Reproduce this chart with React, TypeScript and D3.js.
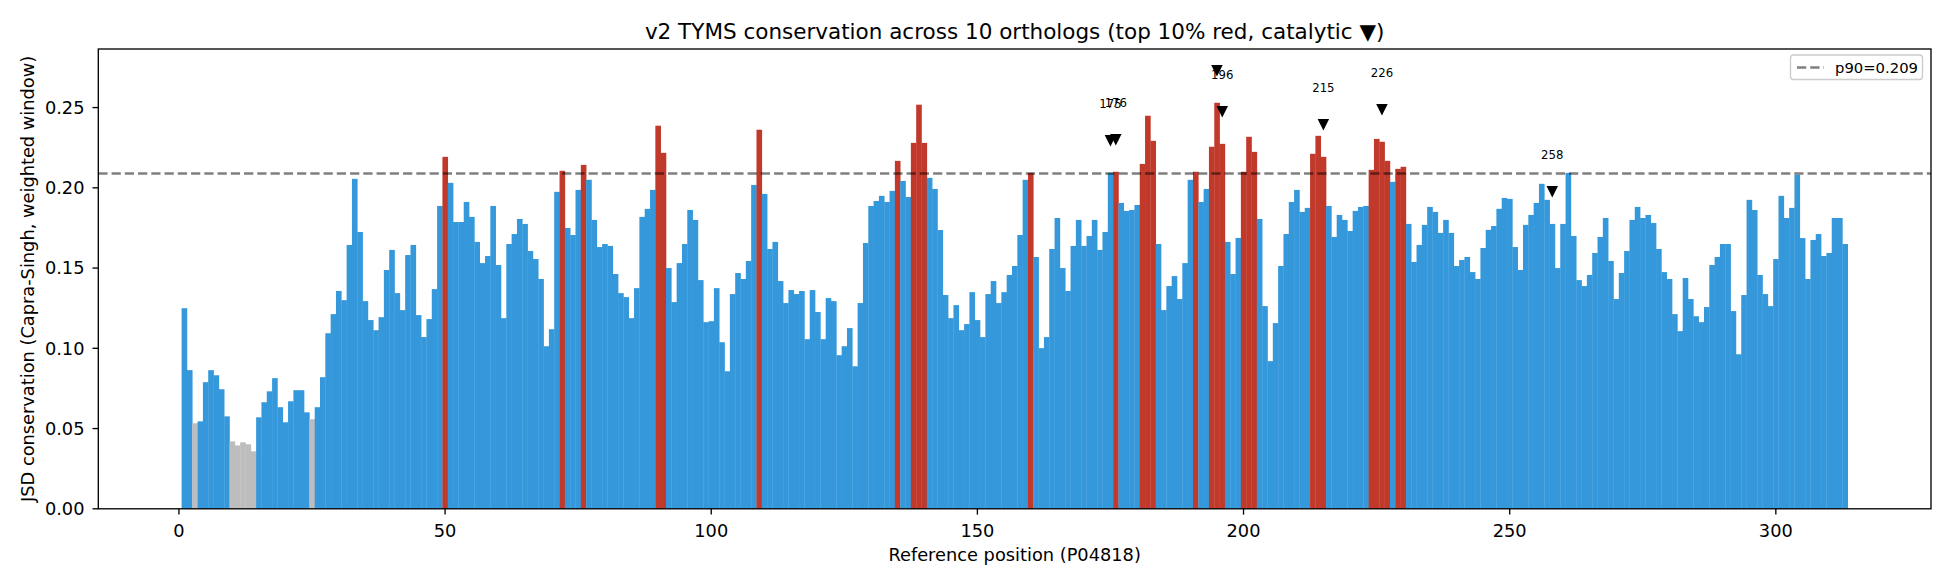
import React, { useEffect, useRef } from 'react';
import * as d3 from 'd3';

// JSD conservation per reference position (1..313)
const conservation: number[] = [
  0.125, 0.0864, 0.0533, 0.0545, 0.0789, 0.0864, 0.0832, 0.0745, 0.0576, 0.042,
  0.0395, 0.0414, 0.0402, 0.0358, 0.057, 0.0664, 0.0732, 0.0814, 0.0633, 0.0539,
  0.067, 0.0739, 0.0739, 0.0601, 0.0558, 0.0633, 0.082, 0.1094, 0.1213, 0.1357,
  0.13, 0.1644, 0.2056, 0.1725, 0.1294, 0.1176, 0.1113, 0.1194, 0.1488, 0.1613,
  0.1344, 0.1238, 0.1581, 0.1644, 0.1207, 0.107, 0.1182, 0.1369, 0.1887, 0.2193,
  0.2031, 0.1787, 0.1787, 0.1912, 0.1819, 0.1663, 0.1531, 0.1575, 0.1887, 0.1519,
  0.1188, 0.165, 0.1712, 0.1806, 0.1775, 0.1606, 0.1556, 0.1432, 0.1013, 0.1119,
  0.1975, 0.2106, 0.175, 0.1706, 0.1987, 0.2143, 0.205, 0.18, 0.1631, 0.165,
  0.1638, 0.1463, 0.1344, 0.1319, 0.1188, 0.1375, 0.1819, 0.1869, 0.1987, 0.2387,
  0.2218, 0.15, 0.1288, 0.1531, 0.165, 0.1862, 0.18, 0.1425, 0.1163, 0.1169,
  0.1375, 0.1038, 0.0857, 0.1338, 0.1469, 0.1432, 0.1544, 0.2018, 0.2362, 0.1962,
  0.1619, 0.1663, 0.1419, 0.1282, 0.1363, 0.1338, 0.1357, 0.1057, 0.1363, 0.1226,
  0.1057, 0.1313, 0.1294, 0.0957, 0.1013, 0.1126, 0.0888, 0.1282, 0.1656, 0.1887,
  0.1918, 0.195, 0.1912, 0.1981, 0.2168, 0.2043, 0.1943, 0.228, 0.2518, 0.228,
  0.2062, 0.1993, 0.1737, 0.1332, 0.1188, 0.1269, 0.1113, 0.1151, 0.135, 0.1176,
  0.107, 0.1338, 0.1419, 0.1282, 0.135, 0.1457, 0.1513, 0.1706, 0.205, 0.2093,
  0.1569, 0.1001, 0.107, 0.1619, 0.1812, 0.15, 0.1357, 0.1638, 0.18, 0.1638,
  0.17, 0.18, 0.1613, 0.1725, 0.2093, 0.21, 0.1906, 0.1856, 0.1862, 0.1893,
  0.2149, 0.2449, 0.2293, 0.165, 0.1238, 0.1388, 0.145, 0.1307, 0.1531, 0.205,
  0.21, 0.1912, 0.1993, 0.2256, 0.253, 0.2274, 0.1663, 0.1463, 0.1688, 0.21,
  0.2318, 0.2224, 0.1806, 0.1263, 0.092, 0.1157, 0.1513, 0.1712, 0.1912, 0.1987,
  0.185, 0.1875, 0.2212, 0.2324, 0.2193, 0.1887, 0.1694, 0.1831, 0.18, 0.1731,
  0.1856, 0.1881, 0.1887, 0.2112, 0.2305, 0.2287, 0.2168, 0.2037, 0.2118, 0.2131,
  0.1775, 0.1538, 0.1644, 0.1769, 0.1881, 0.185, 0.1719, 0.18, 0.1719, 0.1513,
  0.155, 0.1569, 0.1475, 0.1432, 0.1625, 0.1738, 0.1762, 0.1869, 0.1937, 0.1931,
  0.1631, 0.1488, 0.1769, 0.1831, 0.1906, 0.2025, 0.1925, 0.1775, 0.15, 0.1775,
  0.2093, 0.17, 0.1425, 0.1388, 0.1457, 0.1594, 0.1694, 0.1812, 0.1544, 0.1307,
  0.1469, 0.1606, 0.18, 0.1881, 0.1812, 0.1831, 0.1781, 0.1619, 0.1475, 0.1432,
  0.1213, 0.1107, 0.1438, 0.1307, 0.12, 0.1163, 0.1257, 0.1519, 0.1569, 0.165,
  0.165, 0.1232, 0.0963, 0.1332, 0.1925, 0.1862, 0.1457, 0.1338, 0.1263, 0.1556,
  0.195, 0.1812, 0.1875, 0.2081, 0.1687, 0.1432, 0.1675, 0.1712, 0.1575, 0.1594,
  0.1812, 0.1812, 0.165,
];

// top 10% positions (red)
const topPositions = [
  50, 72, 76, 90, 91, 109, 135, 138, 139, 140, 160, 176, 181, 182, 183, 191,
  194, 195, 196, 200, 201, 202, 213, 214, 215, 224, 225, 226, 227, 229, 230,
];
// low-coverage / gap positions (grey)
const gapPositions = [3, 10, 11, 12, 13, 14, 25];
// catalytic residues (triangles)
const catalyticPositions = [175, 176, 195, 196, 215, 226, 258];

const p90 = 0.209;
const xTicks = [0, 50, 100, 150, 200, 250, 300];
const yTicks = [0, 0.05, 0.1, 0.15, 0.2, 0.25];

const BLUE = '#3498db';
const RED = '#c0392b';
const GREY = '#bdbdbd';
const FONT = 'DejaVu Sans, sans-serif';

const WIDTH = 1950;
const HEIGHT = 585;

const App: React.FC = () => {
  const svgRef = useRef<SVGSVGElement>(null);

  useEffect(() => {
    if (!svgRef.current) return;
    const svg = d3.select(svgRef.current);
    svg.selectAll('*').remove();

    const left = 98.3;
    const right = 1931;
    const top = 49;
    const bottom = 508.8;

    const data = conservation.map((v, i) => ({ pos: i + 1, value: v }));
    const topSet = new Set(topPositions);
    const gapSet = new Set(gapPositions);

    const xScale = d3.scaleLinear().domain([-15.15, 329.15]).range([left, right]);
    const yScale = d3.scaleLinear().domain([0, 0.2865]).range([bottom, top]);
    const bw = xScale(1) - xScale(0);

    svg.append('rect').attr('width', WIDTH).attr('height', HEIGHT).attr('fill', '#fff');

    const plot = svg.append('g');

    // bars
    plot
      .selectAll('rect.bar')
      .data(data)
      .join('rect')
      .attr('class', 'bar')
      .attr('x', d => xScale(d.pos - 0.5))
      .attr('width', bw + 0.3)
      .attr('y', d => yScale(d.value))
      .attr('height', d => yScale(0) - yScale(d.value))
      .attr('fill', d => (topSet.has(d.pos) ? RED : gapSet.has(d.pos) ? GREY : BLUE));

    // p90 line
    plot
      .append('line')
      .attr('x1', left)
      .attr('x2', right)
      .attr('y1', yScale(p90))
      .attr('y2', yScale(p90))
      .attr('stroke', '#000')
      .attr('stroke-opacity', 0.5)
      .attr('stroke-width', 2.5)
      .attr('stroke-dasharray', '9.25,4');

    // catalytic markers + labels
    const cat = data.filter(d => catalyticPositions.includes(d.pos));
    const ms = 11.5;
    plot
      .selectAll('path.cat')
      .data(cat)
      .join('path')
      .attr('class', 'cat')
      .attr('d', d => {
        const cx = xScale(d.pos);
        const cy = yScale(d.value + 0.02);
        return `M${cx - ms / 2},${cy - ms / 2}L${cx + ms / 2},${cy - ms / 2}L${cx},${cy + ms / 2}Z`;
      })
      .attr('fill', '#000');

    // labels whose anchor falls above the axes are clipped (as for 195)
    plot
      .selectAll('text.cat')
      .data(cat.filter(d => d.value + 0.0405 < yScale.domain()[1]))
      .join('text')
      .attr('class', 'cat')
      .attr('x', d => xScale(d.pos))
      .attr('y', d => yScale(d.value + 0.0405))
      .attr('text-anchor', 'middle')
      .attr('font-family', FONT)
      .attr('font-size', 11.7)
      .attr('fill', '#000')
      .text(d => String(d.pos));

    // frame
    svg
      .append('rect')
      .attr('x', left)
      .attr('y', top)
      .attr('width', right - left)
      .attr('height', bottom - top)
      .attr('fill', 'none')
      .attr('stroke', '#000')
      .attr('stroke-width', 1.33);

    // x axis
    const xAxis = svg.append('g');
    xTicks.forEach(t => {
      xAxis
        .append('line')
        .attr('x1', xScale(t))
        .attr('x2', xScale(t))
        .attr('y1', bottom)
        .attr('y2', bottom + 5.8)
        .attr('stroke', '#000')
        .attr('stroke-width', 1.33);
      xAxis
        .append('text')
        .attr('x', xScale(t))
        .attr('y', 537.3)
        .attr('text-anchor', 'middle')
        .attr('font-family', FONT)
        .attr('font-size', 17.8)
        .text(String(t));
    });

    // y axis
    const yAxis = svg.append('g');
    yTicks.forEach(t => {
      yAxis
        .append('line')
        .attr('x1', left - 5.8)
        .attr('x2', left)
        .attr('y1', yScale(t))
        .attr('y2', yScale(t))
        .attr('stroke', '#000')
        .attr('stroke-width', 1.33);
      yAxis
        .append('text')
        .attr('x', 84.5)
        .attr('y', yScale(t))
        .attr('dy', '0.36em')
        .attr('text-anchor', 'end')
        .attr('font-family', FONT)
        .attr('font-size', 17.8)
        .text(t.toFixed(2));
    });

    // titles
    svg
      .append('text')
      .attr('x', (left + right) / 2)
      .attr('y', 38.8)
      .attr('text-anchor', 'middle')
      .attr('font-family', FONT)
      .attr('font-size', 21.5)
      .text('v2 TYMS conservation across 10 orthologs (top 10% red, catalytic \u25BC)');

    svg
      .append('text')
      .attr('x', (left + right) / 2)
      .attr('y', 561)
      .attr('text-anchor', 'middle')
      .attr('font-family', FONT)
      .attr('font-size', 17.8)
      .text('Reference position (P04818)');

    svg
      .append('text')
      .attr('transform', `translate(34,${(top + bottom) / 2}) rotate(-90)`)
      .attr('text-anchor', 'middle')
      .attr('font-family', FONT)
      .attr('font-size', 17.8)
      .text('JSD conservation (Capra-Singh, weighted window)');

    // legend
    const lg = svg.append('g');
    lg.append('rect')
      .attr('x', 1790.5)
      .attr('y', 55)
      .attr('width', 132)
      .attr('height', 24.5)
      .attr('rx', 3)
      .attr('fill', '#fff')
      .attr('fill-opacity', 0.8)
      .attr('stroke', '#cccccc')
      .attr('stroke-width', 1.33);
    lg.append('line')
      .attr('x1', 1797)
      .attr('x2', 1824)
      .attr('y1', 67.5)
      .attr('y2', 67.5)
      .attr('stroke', '#000')
      .attr('stroke-opacity', 0.5)
      .attr('stroke-width', 2.5)
      .attr('stroke-dasharray', '9.25,4');
    lg.append('text')
      .attr('x', 1835)
      .attr('y', 72.5)
      .attr('font-family', FONT)
      .attr('font-size', 14.8)
      .text(`p90=${p90.toFixed(3)}`);
  }, []);

  return (
    <svg
      ref={svgRef}
      width={WIDTH}
      height={HEIGHT}
      style={{ position: 'absolute', left: 0, top: 0 }}
    />
  );
};

export default App;
